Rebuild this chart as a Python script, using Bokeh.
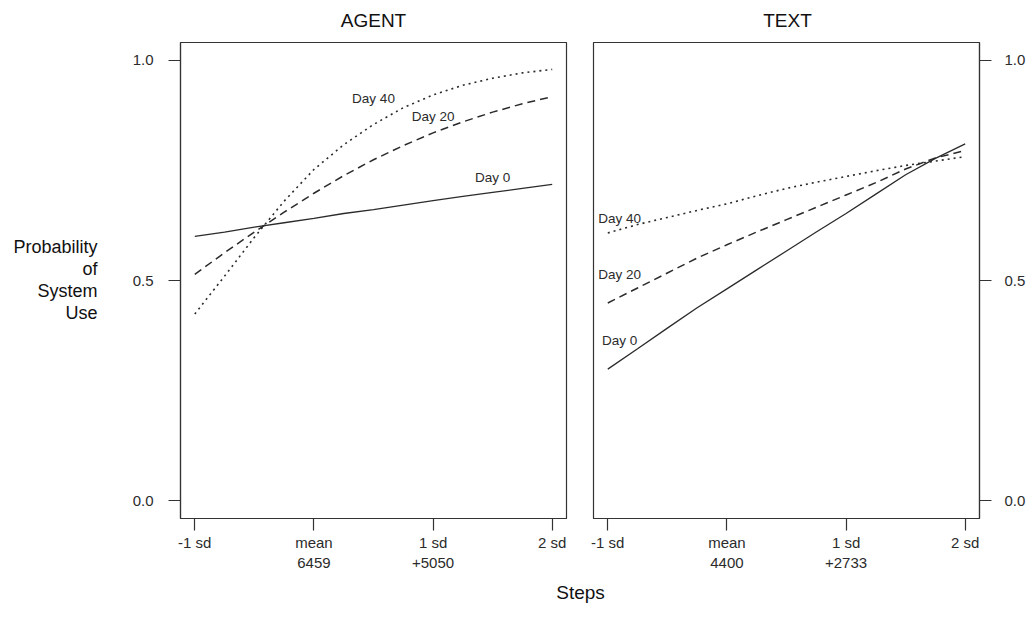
from bokeh.plotting import figure
from bokeh.layouts import row, column
from bokeh.models import Range1d, FixedTicker, Label
from bokeh.embed import file_html
from bokeh.resources import INLINE

# ---- data ----
x_sd = [-1.0, -0.75, -0.5, -0.25, 0.0, 0.25, 0.5, 0.75, 1.0, 1.25, 1.5, 1.75, 2.0]

agent_day0 = [0.600, 0.610, 0.621, 0.631, 0.641, 0.652, 0.661, 0.671, 0.681, 0.691, 0.700, 0.709, 0.718]
agent_day20 = [0.514, 0.563, 0.610, 0.655, 0.698, 0.738, 0.774, 0.806, 0.835, 0.860, 0.882, 0.901, 0.917]
agent_day40 = [0.424, 0.510, 0.598, 0.680, 0.752, 0.808, 0.854, 0.892, 0.921, 0.943, 0.959, 0.971, 0.979]

text_day0 = [0.299, 0.345, 0.392, 0.438, 0.481, 0.524, 0.567, 0.610, 0.652, 0.696, 0.740, 0.777, 0.810]
text_day20 = [0.449, 0.483, 0.517, 0.551, 0.581, 0.610, 0.638, 0.666, 0.694, 0.722, 0.753, 0.778, 0.795]
text_day40 = [0.608, 0.627, 0.643, 0.659, 0.674, 0.692, 0.709, 0.723, 0.736, 0.749, 0.761, 0.771, 0.781]

panel_titles = ["AGENT", "TEXT"]
day_names = ["Day 0", "Day 20", "Day 40"]
x_ticks = [-1, 0, 1, 2]
agent_tick_labels = ["-1 sd", "mean\n6459", "1 sd\n+5050", "2 sd"]
text_tick_labels = ["-1 sd", "mean\n4400", "1 sd\n+2733", "2 sd"]
y_ticks = [0, 0.5, 1]
y_tick_labels = ["0.0", "0.5", "1.0"]
y_title = "Probability\nof\nSystem\nUse"
x_title = "Steps"

# label positions (data coords)
agent_label_pos = [(1.5, 0.734), (1.0, 0.871), (0.5, 0.913)]
text_label_pos = [(-0.90, 0.364), (-0.90, 0.514), (-0.90, 0.640)]

FONT = "Liberation Sans"
INK = "#2b2b2b"
BOX = "#333333"
TXT = "#111111"

dashes = ["solid", "8 5", "2 4"]
widths = [1.3, 1.5, 1.6]

TOP_H = 36
ROW_H = 6 + 476 + 57
W0 = 100


def blank(width, height):
    f = figure(width=width, height=height, x_range=Range1d(0, width), y_range=Range1d(0, height),
               output_backend="svg", toolbar_location=None, min_border=0)
    f.axis.visible = False
    f.xgrid.visible = False
    f.ygrid.visible = False
    f.outline_line_color = None
    f.background_fill_color = "white"
    f.border_fill_color = "white"
    return f


def make_panel(series, tick_labels, label_pos, yside, bl, br, fw, ystand):
    p = figure(width=bl + fw + br, height=ROW_H,
               x_range=Range1d(-1.12, 2.12), y_range=Range1d(-0.04, 1.04),
               y_axis_location=yside, output_backend="svg", toolbar_location=None,
               min_border_left=bl, min_border_right=br, min_border_top=6, min_border_bottom=57)
    p.xgrid.visible = False
    p.ygrid.visible = False
    p.outline_line_color = BOX
    p.outline_line_width = 1.2
    p.background_fill_color = "white"
    p.border_fill_color = "white"

    for ax in (p.xaxis[0], p.yaxis[0]):
        ax.axis_line_color = BOX
        ax.axis_line_width = 1.2
        ax.major_tick_line_color = BOX
        ax.major_tick_line_width = 1.2
        ax.major_tick_in = 0
        ax.major_tick_out = 12
        ax.minor_tick_line_color = None
        ax.major_label_text_font = FONT
        ax.major_label_text_font_size = "15px"
        ax.major_label_text_color = INK

    p.xaxis.ticker = FixedTicker(ticks=x_ticks)
    p.xaxis.major_label_overrides = {t: l for t, l in zip(x_ticks, tick_labels)}
    p.xaxis.major_label_standoff = 3
    p.yaxis.ticker = FixedTicker(ticks=y_ticks)
    p.yaxis.major_label_overrides = {t: l for t, l in zip(y_ticks, y_tick_labels)}
    p.yaxis.major_label_standoff = ystand

    for ys, dash, w in zip(series, dashes, widths):
        p.line(x_sd, ys, line_color=INK, line_width=w, line_dash=dash)

    for name, (lx, ly) in zip(day_names, label_pos):
        p.add_layout(Label(x=lx, y=ly, text=name, text_align="center", text_baseline="middle",
                           text_font=FONT, text_font_size="13.5px", text_color=INK))
    return p


p1 = make_panel([agent_day0, agent_day20, agent_day40], agent_tick_labels,
                agent_label_pos, "left", 180 - W0, 13, 386, 15)
p2 = make_panel([text_day0, text_day20, text_day40], text_tick_labels,
                text_label_pos, "right", 14, 47, 388, 13)

# y-axis title strip
p0 = blank(W0, ROW_H)
p0.add_layout(Label(x=97, y=ROW_H - (305 - TOP_H), text=y_title, text_align="right",
                    text_baseline="middle", text_font=FONT, text_font_size="18px",
                    text_color=TXT, text_line_height=1.1))

total_w = W0 + p1.width + p2.width

# panel titles strip
pt = blank(total_w, TOP_H)
for t, cx in zip(panel_titles, [373, 787]):
    pt.add_layout(Label(x=cx, y=TOP_H - 19.5, text=t, text_align="center", text_baseline="middle",
                        text_font=FONT, text_font_size="19px", text_color=TXT))

# x-axis title strip
p3 = blank(total_w, 36)
p3.add_layout(Label(x=580, y=36 - 17, text=x_title, text_align="center", text_baseline="middle",
                    text_font=FONT, text_font_size="19px", text_color=TXT))

layout = column(pt, row(p0, p1, p2), p3)
open("out.html", "w").write(file_html(layout, INLINE))
